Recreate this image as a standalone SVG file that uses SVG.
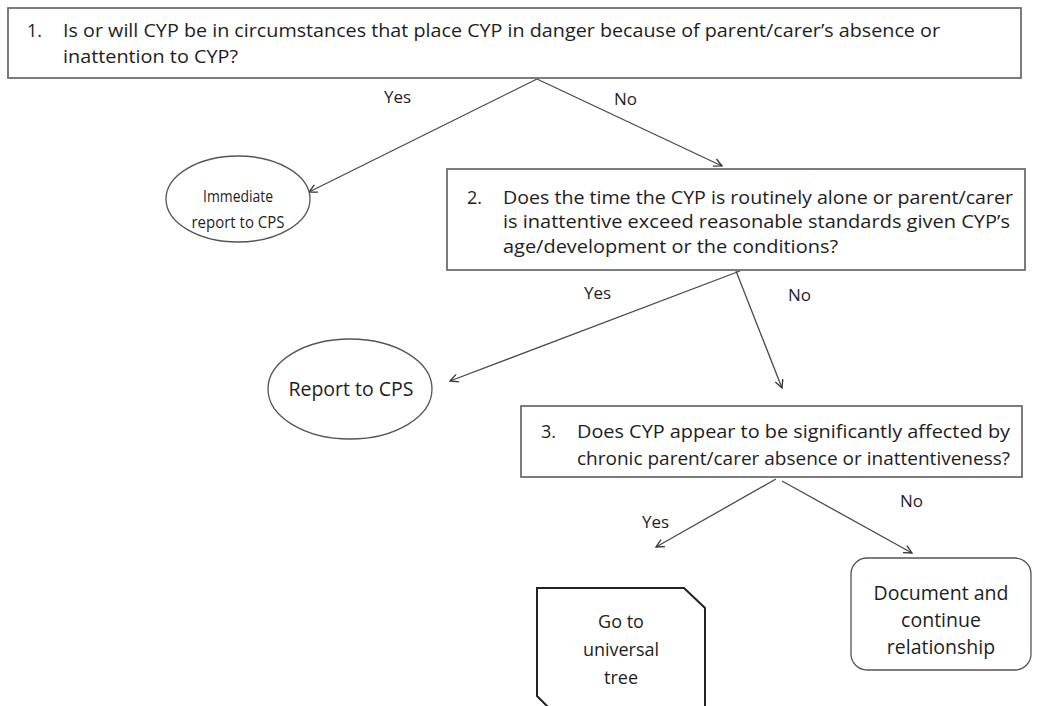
<svg xmlns="http://www.w3.org/2000/svg" width="1042" height="706" viewBox="0 0 1042 706">
  <style>
    .box { fill: #ffffff; stroke: #6e6e6e; stroke-width: 1.8; }
    .term { fill: #ffffff; stroke: #555555; stroke-width: 1.3; }
    .txt { font-family: "Open Sans", "Noto Sans", "DejaVu Sans", sans-serif; font-size: 18px; fill: #1e1e1e; }
    .small { font-size: 16px; }
    .big { font-size: 19.5px; }
    .mid { text-anchor: middle; }
    .lbl { font-family: "Open Sans", "Noto Sans", "DejaVu Sans", sans-serif; font-size: 17px; fill: #1e1e1e; }
    .edge { fill: none; stroke: #4a4a4a; stroke-width: 1.3; marker-end: url(#arrow); }
  </style>
  <defs>
    <marker id="arrow" viewBox="0 0 10 10" refX="9" refY="5" markerWidth="10" markerHeight="10" markerUnits="userSpaceOnUse" orient="auto">
      <path d="M1,1 L9,5 L1,9" fill="none" stroke="#333333" stroke-width="1.3"/>
    </marker>
  </defs>
  <rect width="1042" height="706" fill="#ffffff"/>

  <!-- connectors -->
  <g id="connectors">
    <line class="edge" x1="537" y1="79" x2="309" y2="192"/>
    <line class="edge" x1="537" y1="79" x2="722" y2="166"/>
    <line class="edge" x1="740" y1="271" x2="450" y2="381"/>
    <line class="edge" x1="736" y1="271" x2="782" y2="388"/>
    <line class="edge" x1="776" y1="479" x2="656" y2="547"/>
    <line class="edge" x1="782" y1="481" x2="912" y2="553"/>
    <text class="lbl" x="384" y="103">Yes</text>
    <text class="lbl" x="614" y="105">No</text>
    <text class="lbl" x="584" y="299">Yes</text>
    <text class="lbl" x="788" y="301">No</text>
    <text class="lbl" x="642" y="528">Yes</text>
    <text class="lbl" x="900" y="507">No</text>
  </g>

  <!-- question 1 -->
  <g id="q1">
    <rect class="box" x="8" y="8" width="1013" height="70"/>
    <text class="txt" x="27" y="37">1.</text>
    <text class="txt" x="63" y="37" textLength="877" lengthAdjust="spacingAndGlyphs">Is or will CYP be in circumstances that place CYP in danger because of parent/carer’s absence or</text>
    <text class="txt" x="63" y="63" textLength="175" lengthAdjust="spacingAndGlyphs">inattention to CYP?</text>
  </g>

  <!-- outcome: immediate report -->
  <g id="immediate">
    <ellipse class="term" cx="238" cy="199" rx="72" ry="43"/>
    <text class="txt small mid" x="238" y="202" textLength="70" lengthAdjust="spacingAndGlyphs">Immediate</text>
    <text class="txt small mid" x="238" y="228" textLength="93" lengthAdjust="spacingAndGlyphs">report to CPS</text>
  </g>

  <!-- question 2 -->
  <g id="q2">
    <rect class="box" x="447" y="169" width="578" height="101"/>
    <text class="txt" x="467" y="203.5">2.</text>
    <text class="txt" x="503" y="203.5" textLength="510" lengthAdjust="spacingAndGlyphs">Does the time the CYP is routinely alone or parent/carer</text>
    <text class="txt" x="503" y="228" textLength="507" lengthAdjust="spacingAndGlyphs">is inattentive exceed reasonable standards given CYP’s</text>
    <text class="txt" x="503" y="252.5" textLength="335" lengthAdjust="spacingAndGlyphs">age/development or the conditions?</text>
  </g>

  <!-- outcome: report -->
  <g id="report">
    <ellipse class="term" cx="350" cy="389" rx="82" ry="50"/>
    <text class="txt big mid" x="351" y="396">Report to CPS</text>
  </g>

  <!-- question 3 -->
  <g id="q3">
    <rect class="box" x="521" y="406" width="501" height="71"/>
    <text class="txt" x="541" y="438">3.</text>
    <text class="txt" x="577" y="438" textLength="433" lengthAdjust="spacingAndGlyphs">Does CYP appear to be significantly affected by</text>
    <text class="txt" x="577" y="465" textLength="433" lengthAdjust="spacingAndGlyphs">chronic parent/carer absence or inattentiveness?</text>
  </g>

  <!-- outcome: universal tree -->
  <g id="universal">
    <path d="M537,588 L684,588 L705,608 L705,712 L553,712 L537,696 Z" fill="#ffffff" stroke="#222222" stroke-width="2"/>
    <text class="txt mid" x="621" y="628">Go to</text>
    <text class="txt mid" x="621" y="656">universal</text>
    <text class="txt mid" x="621" y="684">tree</text>
  </g>

  <!-- outcome: document -->
  <g id="document">
    <rect x="851" y="558" width="180" height="112" rx="16" ry="16" fill="#ffffff" stroke="#555555" stroke-width="1.3"/>
    <text class="txt big mid" x="941" y="600">Document and</text>
    <text class="txt big mid" x="941" y="627">continue</text>
    <text class="txt big mid" x="941" y="654">relationship</text>
  </g>
</svg>
